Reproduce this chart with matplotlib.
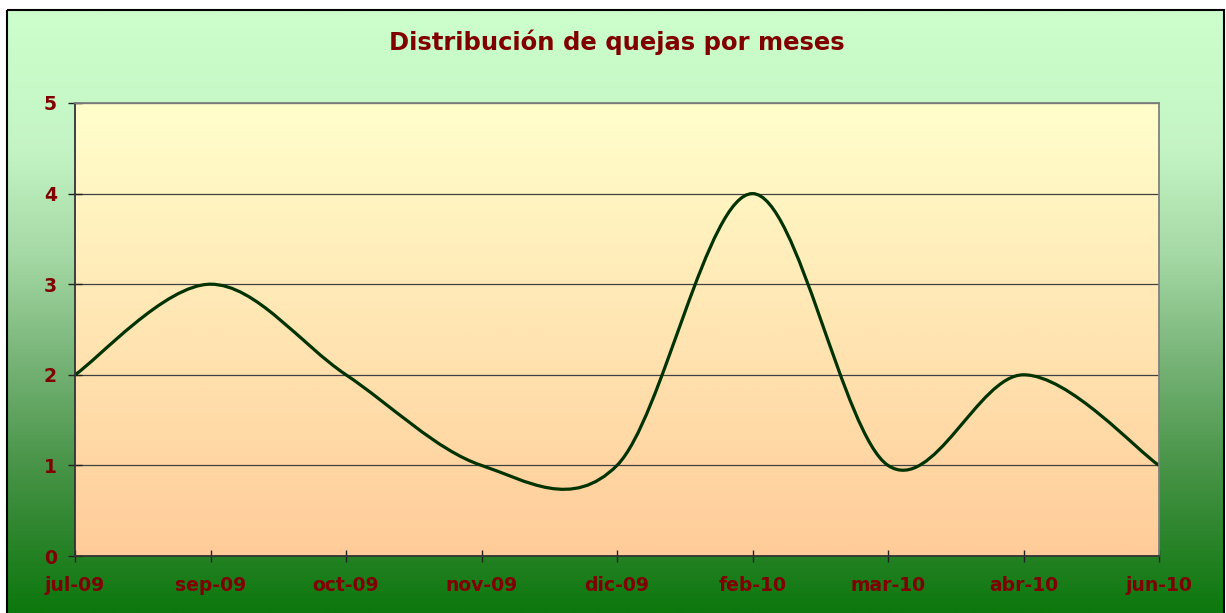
import numpy as np
import matplotlib
matplotlib.use("Agg")
import matplotlib.pyplot as plt
from matplotlib.path import Path
from matplotlib.patches import PathPatch, Rectangle
from matplotlib.colors import LinearSegmentedColormap

# data
meses = ['jul-09', 'sep-09', 'oct-09', 'nov-09', 'dic-09', 'feb-10', 'mar-10', 'abr-10', 'jun-10']
quejas = [2, 3, 2, 1, 1, 4, 1, 2, 1]

titulo = 'Distribución de quejas por meses'
rojo = '#800000'

fig = plt.figure(figsize=(12.26, 6.13), dpi=100)

# fondo del grafico (degradado verde)
bg = fig.add_axes([0, 0, 1, 1], zorder=0)
bg.set_xlim(0, 1226)
bg.set_ylim(613, 0)
bg.axis('off')
verde = LinearSegmentedColormap.from_list('verde', [
    (0.0, '#ccffcc'), (0.23, '#c4f4c4'), (0.41, '#a4d8a4'),
    (0.58, '#78b478'), (0.75, '#4a954a'), (0.88, '#2a842a'), (1.0, '#0d780d')])
grad = np.linspace(0, 1, 300).reshape(-1, 1)
bg.imshow(grad, cmap=verde, aspect='auto', extent=(7, 1225, 613, 10))
bg.add_patch(Rectangle((7, 10), 1217, 610, fill=False, edgecolor='black', linewidth=1.5))

ax = fig.add_axes([75/1226, 57/613, 1084/1226, 453/613], zorder=1)
ax.patch.set_alpha(0)
n = len(meses)
x = np.arange(n)
ax.set_xlim(0, n - 1)
ax.set_ylim(0, 5)

# area de trazado (degradado amarillo -> melocoton)
amarillo = LinearSegmentedColormap.from_list('amar', ['#ffffcc', '#ffcc99'])
ax.imshow(grad, cmap=amarillo, aspect='auto', extent=(0, n - 1, 0, 5), zorder=0)

ax.yaxis.grid(True, color='#404040', linewidth=0.9, zorder=1)
ax.set_axisbelow(True)

# linea suavizada (bezier tipo Excel)
pts = list(zip(x, quejas))
verts = [pts[0]]
codes = [Path.MOVETO]
for i in range(n - 1):
    p0 = np.array(pts[max(i - 1, 0)], float)
    p1 = np.array(pts[i], float)
    p2 = np.array(pts[i + 1], float)
    p3 = np.array(pts[min(i + 2, n - 1)], float)
    c1 = p1 + (p2 - p0) / 6
    c2 = p2 - (p3 - p1) / 6
    verts += [tuple(c1), tuple(c2), tuple(p2)]
    codes += [Path.CURVE4] * 3
ax.add_patch(PathPatch(Path(verts, codes), fill=False, edgecolor='#003300',
                       linewidth=2.3, zorder=3, capstyle='round', joinstyle='round'))

ax.set_xticks(x)
ax.set_xticklabels(meses)
ax.set_yticks(range(6))
for lab in ax.get_xticklabels() + ax.get_yticklabels():
    lab.set_color(rojo)
    lab.set_fontweight('bold')
    lab.set_fontsize(13.5)
ax.tick_params(axis='x', direction='inout', length=9, width=1, color='#222222', pad=10)
ax.tick_params(axis='y', direction='inout', length=10, width=1, color='#222222', pad=8)

ax.spines['top'].set_color('#808080')
ax.spines['right'].set_color('#808080')
ax.spines['left'].set_color('#333333')
ax.spines['bottom'].set_color('#333333')
for s in ax.spines.values():
    s.set_linewidth(1.3)
    s.set_zorder(4)

fig.text(617/1226, 1 - 42/613, titulo, ha='center', va='center', color=rojo,
         fontsize=17.5, fontweight='bold')

fig.savefig('out.png', dpi=100)
